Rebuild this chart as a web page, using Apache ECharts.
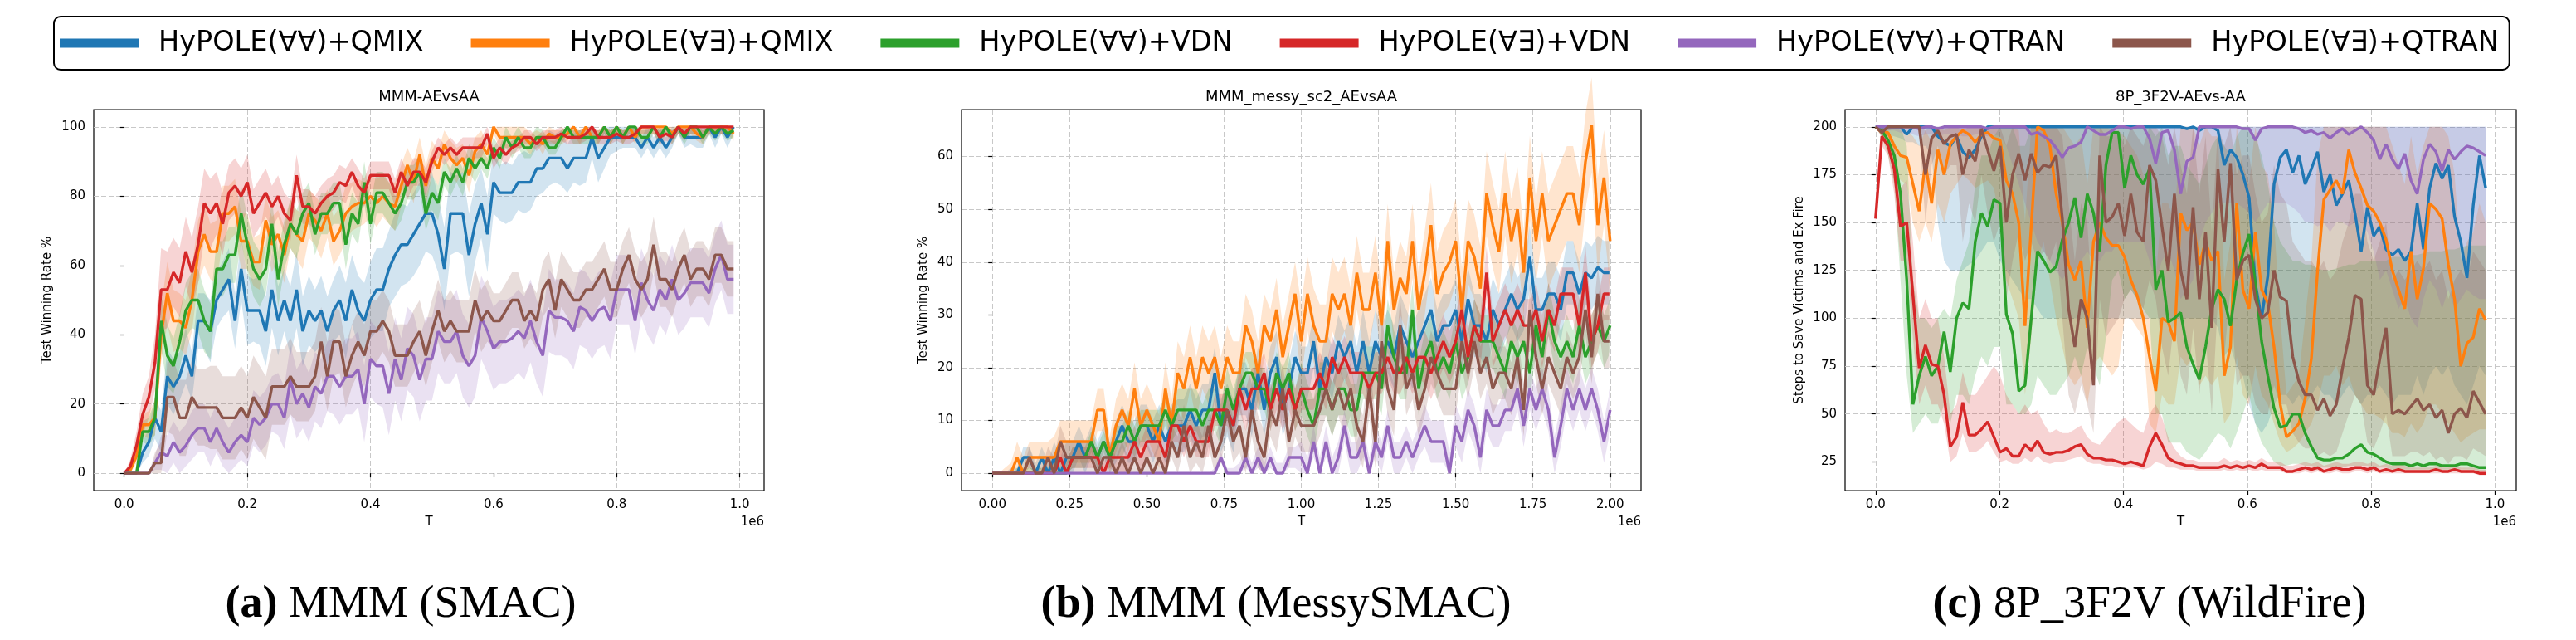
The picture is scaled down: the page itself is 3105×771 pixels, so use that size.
<!DOCTYPE html>
<html><head><meta charset="utf-8">
<script src="https://cdn.jsdelivr.net/npm/echarts@6/dist/echarts.min.js"></script>
<style>html,body{margin:0;padding:0;background:#fff}#c{width:3105px;height:771px}</style>
</head><body><div id="c"></div>
<script>
const METHODS = ['HyPOLE(∀∀)+QMIX','HyPOLE(∀∃)+QMIX','HyPOLE(∀∀)+VDN','HyPOLE(∀∃)+VDN','HyPOLE(∀∀)+QTRAN','HyPOLE(∀∃)+QTRAN'];
const COLORS = ['#1f77b4','#ff7f0e','#2ca02c','#d62728','#9467bd','#8c564b'];
const TITLES = ['MMM-AEvsAA','MMM_messy_sc2_AEvsAA','8P_3F2V-AEvs-AA'];
const YLABELS = ['Test Winning Rate %','Test Winning Rate %','Steps to Save Victims and Ex Fire'];
const XLABEL = 'T';
const OFFSET_TEXT = '1e6';
const CAPTION_TAGS = ['(a)','(b)','(c)'];
const CAPTION_TEXTS = ['MMM (SMAC)','MMM (MessySMAC)','8P_3F2V (WildFire)'];
const X_TICKS_A = [0,200000,400000,600000,800000,1000000];
const X_TICKS_B = [0,250000,500000,750000,1000000,1250000,1500000,1750000,2000000];
const X_TICKS_C = [0,200000,400000,600000,800000,1000000];
const Y_TICKS_A = [0,20,40,60,80,100];
const Y_TICKS_B = [0,10,20,30,40,50,60];
const Y_TICKS_C = [25,50,75,100,125,150,175,200];
const STEP_A = 10000, STEP_B = 20000, STEP_C = 10050;

// ---------- (a) MMM (SMAC) ----------
const A_BLUE = [0,0,0,6,9,16,12,28,25,28, 34,28,44,44,41,50,53,56,44,59, 47,47,47,41,53,44,50,44,53,41, 47,44,47,41,47,50,44,53,47,44, 50,53,53,59,63,66,66,69,72,75, 75,69,59,75,75,75,63,72,78,69, 84,81,81,81,84,84,84,88,88,91, 91,91,88,91,91,91,97,91,94,97, 97,97,97,97,94,97,94,97,94,97, 100,97,97,97,97,100,97,100,97,100];
const A_ORANGE = [0,1,5,14,14,16,40,52,44,44, 42,50,64,69,64,64,75,75,77,67, 67,61,61,73,66,69,63,72,69,67, 75,73,70,75,67,70,75,77,78,78, 80,78,80,78,77,83,89,84,92,83, 91,88,95,91,89,91,86,93,95,92, 100,97,97,97,97,97,95,97,95,98, 97,97,98,100,97,100,97,97,100,97, 100,97,100,97,100,100,100,100,100,98, 100,100,100,98,97,100,100,100,100,98];
const A_GREEN = [0,0,0,12,12,16,44,34,31,38, 47,50,50,44,41,59,59,63,63,75, 66,59,56,59,72,56,66,72,69,75, 78,69,75,75,78,78,66,75,72,84, 72,81,81,78,75,78,84,84,87,75, 81,78,87,84,88,84,91,88,91,88, 94,91,97,94,97,94,94,97,97,94, 94,97,100,97,97,97,97,97,100,97, 100,97,100,100,97,97,100,97,100,97, 100,97,100,100,97,100,98,100,98,99];
const A_RED = [0,2,8,17,22,32,53,53,58,55, 64,58,66,78,75,78,72,81,83,80, 84,75,78,81,77,80,75,73,86,77, 77,75,78,80,81,84,83,87,83,81, 86,86,86,86,81,87,83,87,87,84, 90,94,92,94,92,94,94,94,94,98, 91,94,92,94,95,97,97,95,97,97, 97,98,97,97,97,98,100,97,97,97, 98,97,97,98,100,100,100,97,98,97, 100,98,100,100,100,100,100,100,100,100];
const A_PURPLE = [0,0,0,0,0,3,6,5,9,6, 8,11,13,13,9,13,9,6,9,11, 9,16,14,16,20,20,16,27,20,23, 19,25,23,28,28,25,28,28,30,20, 33,31,31,23,33,27,36,34,27,33, 33,41,38,38,41,34,31,34,45,41, 36,38,38,39,41,39,44,38,34,47, 45,45,44,41,48,47,44,47,48,44, 53,53,53,44,55,50,47,53,50,56, 50,52,55,55,55,52,59,63,56,56];
const A_BROWN = [0,0,0,0,0,3,3,22,22,16, 16,22,19,19,19,19,16,16,16,19, 16,22,19,16,25,25,25,28,25,25, 25,28,38,28,38,38,28,34,38,34, 41,41,44,41,34,34,34,38,41,34, 41,47,41,44,41,41,41,50,44,47, 44,44,47,50,50,44,47,44,53,56, 47,56,53,50,50,53,53,56,59,53, 53,59,63,56,53,56,66,56,56,53, 59,63,56,59,59,56,63,63,59,59];
// half-widths of shaded bands (a)
const A_BLUE_SD = [0,0,0,3,4,6,6,8,8,7, 8,7,8,8,9,8,8,9,8,9, 10,9,10,10,11,10,9,10,11,10, 10,9,10,10,9,10,11,10,10,11, 11,12,12,11,12,12,11,12,12,11, 12,11,12,12,11,12,12,11,10,11, 9,8,9,8,8,9,8,8,7,8, 7,8,7,7,8,7,6,7,6,5, 4,3,3,3,3,3,3,3,3,3, 2,3,2,3,3,2,3,2,3,2];
const A_ORANGE_SD = [0,1,2,3,4,5,8,9,9,8, 8,9,9,9,8,9,8,8,8,8, 8,7,8,7,8,7,8,7,7,8, 7,7,8,7,7,7,8,7,7,6, 6,7,6,6,7,6,5,6,5,6, 5,5,4,5,5,4,5,4,4,3, 2,3,3,3,3,3,3,2,3,2, 2,2,2,2,2,2,2,2,2,2, 2,2,2,2,2,2,2,2,2,2, 2,2,2,2,2,2,2,2,2,2];
const A_GREEN_SD = [0,0,0,3,4,5,8,9,8,8, 8,8,9,9,8,8,8,8,8,8, 8,8,8,7,7,8,7,7,7,6, 6,6,6,6,6,6,7,6,6,6, 6,6,6,6,5,5,5,5,5,5, 5,5,4,4,4,4,4,4,3,3, 3,3,3,3,3,3,3,3,2,2, 2,2,2,2,2,2,2,2,2,2, 2,2,2,2,2,2,2,2,2,2, 2,2,2,2,2,2,2,2,2,2];
const A_RED_SD = [0,2,4,6,6,8,12,11,10,10, 10,10,11,10,10,9,9,8,8,8, 8,7,7,7,6,6,6,6,6,5, 5,5,5,5,5,5,5,4,5,4, 4,4,4,4,4,4,4,4,4,4, 3,3,3,3,3,3,3,3,3,3, 3,3,3,2,2,2,2,2,2,2, 2,2,2,2,2,2,2,2,2,2, 2,2,2,2,2,2,2,2,2,2, 2,2,2,2,2,2,2,2,2,2];
const A_PURPLE_SD = [0,0,0,0,0,2,5,6,6,6, 6,7,7,7,7,7,7,7,7,7, 7,8,8,8,8,9,9,10,10,10, 10,10,10,10,11,11,11,11,11,11, 11,11,12,12,12,12,12,12,12,12, 12,12,12,12,12,12,12,12,12,12, 12,12,12,12,12,12,12,12,12,12, 11,11,11,11,11,11,11,11,11,11, 10,10,10,10,10,10,10,10,10,10, 10,10,10,10,10,10,10,10,10,10];
const A_BROWN_SD = [0,0,0,0,0,3,6,10,11,11, 11,11,11,11,12,12,12,12,12,12, 12,12,12,12,11,11,11,11,10,10, 10,10,10,10,10,9,9,9,9,9, 9,9,9,9,9,9,9,9,9,9, 9,9,9,9,9,9,9,9,9,9, 8,8,8,8,8,8,8,8,8,8, 8,8,8,8,8,8,8,8,8,8, 8,8,8,8,8,8,8,8,8,8, 8,8,8,8,8,8,8,8,8,8];

// ---------- (b) MMM (MessySMAC) ----------
const B_BLUE = [0,0,0,0,0,3,3,0,3,0, 3,0,3,3,6,3,6,3,6,3, 6,9,6,6,9,9,6,9,6,9, 9,9,12,9,12,12,19,9,12,9, 16,16,12,19,12,19,22,12,16,22, 19,19,25,16,22,19,25,22,25,19, 25,19,25,22,25,22,28,25,22,25, 28,31,25,28,28,31,25,33,28,28, 25,31,28,31,34,31,33,41,31,31, 34,34,31,38,38,34,38,37,39,38, 38];
const B_ORANGE = [0,0,0,0,3,0,3,3,3,3, 3,6,6,6,6,6,6,12,12,3, 9,12,9,16,9,12,9,6,16,9, 19,16,22,16,22,19,22,16,22,19, 19,28,25,19,28,25,31,22,28,34, 25,34,28,25,25,34,31,34,28,38, 31,31,38,28,44,31,37,34,44,31, 38,47,34,38,40,44,31,44,41,35, 53,47,42,53,44,50,38,56,44,53, 44,47,50,53,53,47,59,66,47,56, 44];
const B_GREEN = [0,0,0,0,0,0,0,0,0,0, 0,0,0,3,3,3,6,3,6,3, 6,6,9,6,9,9,9,9,12,9, 12,12,12,12,9,12,12,9,16,12, 16,19,19,16,16,12,19,16,19,12, 16,12,9,16,16,12,16,16,12,12, 19,19,19,16,28,22,19,19,31,16, 22,25,19,22,19,25,19,22,28,25, 25,25,22,19,25,22,25,19,28,22, 31,25,22,25,22,28,22,25,28,25, 28];
const B_RED = [0,0,0,0,0,0,0,0,0,0, 0,3,0,3,3,3,3,3,0,3, 3,3,3,6,3,6,6,6,3,9, 9,6,9,6,6,6,12,12,12,9, 16,12,16,16,19,12,16,12,16,12, 16,16,16,19,16,22,19,22,19,19, 19,16,19,19,22,19,19,22,19,22, 22,19,22,25,22,25,31,22,28,25, 38,25,28,31,28,31,28,28,31,25, 31,28,34,34,34,28,38,25,28,34, 34];
const B_PURPLE = [0,0,0,0,0,0,0,0,0,0, 0,0,0,0,0,0,0,0,0,0, 0,0,0,0,0,0,0,0,0,0, 0,0,0,0,0,0,0,3,0,0, 0,3,0,3,0,3,0,0,3,3, 3,0,6,0,6,0,3,9,3,3, 6,0,6,3,9,3,3,6,3,6, 9,6,6,6,0,9,6,12,9,3, 12,9,9,12,12,16,9,16,12,16, 12,3,9,16,12,16,12,16,12,6, 12];
const B_BROWN = [0,0,0,0,0,0,3,0,0,3, 0,6,3,3,3,3,3,0,3,3, 0,3,0,3,0,3,0,3,0,6, 3,9,3,6,3,9,3,6,12,6, 9,3,12,6,3,12,9,16,6,12, 9,9,9,12,16,12,16,12,16,9, 6,16,6,25,16,12,28,16,19,12, 16,22,19,16,16,16,25,19,25,19, 22,16,19,19,16,22,12,31,22,16, 22,19,16,22,19,22,31,22,34,25, 25];
const B_BLUE_SD = [0,0,0,1,1,2,2,2,2,2, 3,3,3,3,3,3,3,3,3,3, 4,4,4,4,4,4,4,4,4,4, 5,5,5,5,5,5,5,5,5,5, 5,5,5,5,5,5,5,5,5,5, 5,5,5,5,5,5,5,5,5,5, 6,6,6,6,6,6,6,6,6,6, 6,6,6,6,6,6,6,6,6,6, 6,6,6,6,6,6,6,6,6,6, 6,6,6,6,6,6,6,6,6,6, 6];
const B_ORANGE_SD = [0,0,1,2,3,3,3,3,3,3, 4,4,4,4,4,4,4,4,4,4, 5,5,5,5,5,5,5,5,5,5, 6,6,6,6,6,6,6,6,6,6, 6,6,6,6,6,6,6,6,6,6, 7,7,7,7,7,7,7,7,7,7, 7,7,7,7,7,7,7,7,7,7, 8,8,8,8,8,8,8,8,8,8, 8,8,8,8,8,8,8,8,8,8, 9,9,9,9,9,9,9,9,9,9, 9];
const B_GREEN_SD = [0,0,0,0,1,1,1,1,1,1, 2,2,2,2,2,2,2,2,2,2, 3,3,3,3,3,3,3,3,3,3, 4,4,4,4,4,4,4,4,4,4, 4,4,4,4,4,4,4,4,4,4, 5,5,5,5,5,5,5,5,5,5, 5,5,5,5,5,5,5,5,5,5, 5,5,5,5,5,5,5,5,5,5, 5,5,5,5,5,5,5,5,5,5, 5,5,5,5,5,5,5,5,5,5, 5];
const B_RED_SD = [0,0,0,0,0,0,0,0,0,0, 2,2,2,2,2,2,2,2,2,2, 3,3,3,3,3,3,3,3,3,3, 3,3,3,3,3,3,3,3,3,3, 4,4,4,4,4,4,4,4,4,4, 4,4,4,4,4,4,4,4,4,4, 4,4,4,4,4,4,4,4,4,4, 5,5,5,5,5,5,5,5,5,5, 5,5,5,5,5,5,5,5,5,5, 5,5,5,5,5,5,5,5,5,5, 5];
const B_PURPLE_SD = [0,0,0,0,0,0,0,0,0,0, 0,0,0,0,0,0,0,0,0,0, 0,0,0,0,0,0,0,0,0,0, 0,0,0,0,0,0,1,1,1,1, 2,2,2,2,2,2,2,2,2,2, 3,3,3,3,3,3,3,3,3,3, 3,3,3,3,3,3,3,3,3,3, 4,4,4,4,4,4,4,4,4,4, 4,4,4,4,4,4,4,4,4,4, 4,4,4,4,4,4,4,4,4,4, 4];
const B_BROWN_SD = [0,0,0,0,0,1,2,1,1,2, 3,3,3,3,3,3,3,3,3,3, 3,3,3,3,3,3,3,3,3,3, 4,4,4,4,4,4,4,4,4,4, 5,5,5,5,5,5,5,5,5,5, 5,5,5,5,5,5,5,5,5,5, 5,5,5,5,5,5,5,5,5,5, 5,5,5,5,5,5,5,5,5,5, 5,5,5,5,5,5,5,5,5,5, 5,5,5,5,5,5,5,5,5,5, 5];

// ---------- (c) 8P_3F2V (WildFire) ----------
const C_BLUE = [200,200,200,200,200,196,200,200,200,200, 195,192,190,195,187,184,188,195,200,200, 200,200,200,200,200,200,200,200,200,200, 200,200,200,200,200,200,200,200,200,200, 200,200,200,200,200,200,200,200,200,200, 199,200,198,200,200,198,180,188,184,175, 163,118,100,122,170,184,188,176,185,170, 178,187,166,175,159,165,172,155,135,158, 143,148,136,133,136,130,135,160,136,168, 181,173,180,153,140,121,159,185,168];
const C_ORANGE = [200,197,197,190,185,184,170,156,181,160, 188,175,191,195,198,196,192,196,197,194, 193,172,165,150,96,148,200,198,190,165, 150,128,120,130,95,140,150,142,138,138, 132,120,112,100,80,62,100,98,88,155, 146,150,128,140,130,135,70,85,160,115, 105,145,115,108,85,55,38,41,45,58, 79,125,162,167,172,165,188,176,168,159, 156,150,141,125,115,105,135,110,126,160, 157,152,128,110,75,87,90,105,99];
const C_GREEN = [200,198,193,185,165,120,55,70,80,70, 75,93,72,100,108,105,140,155,148,162, 160,102,92,62,65,100,135,130,124,127, 141,150,163,142,165,155,135,180,197,197, 168,185,175,170,178,115,125,98,100,103, 85,76,68,85,105,115,110,96,120,134, 144,118,88,70,53,43,44,50,50,40, 33,27,26,26,27,27,29,32,34,30, 29,27,25,24,24,24,23,24,23,24, 24,23,23,23,24,24,23,22,22];
const C_RED = [152,195,190,178,148,150,112,74,86,76, 75,60,33,38,56,39,39,42,46,38, 30,32,28,28,34,31,36,30,29,30, 30,31,33,34,29,27,27,26,26,25, 24,25,24,23,33,40,34,27,25,24, 23,23,22,22,22,22,23,22,23,22, 23,22,24,22,22,22,20,20,21,22, 21,22,20,21,22,21,21,22,22,21, 22,20,21,20,21,20,20,20,20,20, 21,20,20,21,20,20,20,19,19];
const C_PURPLE = [200,200,200,200,200,200,200,199,200,200, 199,200,200,200,200,200,200,200,199,200, 200,200,200,200,200,196,197,195,193,189, 184,189,190,192,200,198,196,196,198,200, 200,199,200,200,194,181,197,198,188,165, 182,184,200,200,200,200,200,200,200,199, 199,193,199,200,200,200,200,200,199,197, 198,196,197,194,197,199,196,198,200,197, 193,183,191,183,178,186,172,165,183,191, 187,177,188,183,187,190,189,187,185];
const C_BROWN = [200,197,200,200,200,200,200,200,175,194, 198,191,195,196,175,188,182,199,188,177, 190,150,175,186,172,186,176,180,179,185, 152,105,85,110,100,65,185,150,153,160, 143,165,145,140,180,172,148,125,165,125, 110,158,110,145,95,178,140,181,120,130, 133,110,100,103,125,111,109,80,67,60, 60,52,58,49,55,74,90,112,110,65, 60,79,95,50,52,50,54,58,52,55, 48,52,40,50,53,48,62,56,50];
// shaded band bounds (c)
const C_BLUE_LO = [200,198,196,195,194,192,192,190,190,185, 150,130,125,125,125,128,130,135,140,140, 130,125,120,115,110,110,105,100,100,100, 100,100,100,100,100,100,100,100,100,100, 100,100,100,100,100,100,100,100,100,100, 100,100,100,100,100,95,80,85,75,70, 55,45,40,45,55,60,60,55,60,55, 60,65,60,60,55,60,65,60,55,60, 60,65,60,55,60,60,60,70,60,70, 75,70,75,65,60,55,65,75,70];
const C_BLUE_HI = [200,200,200,200,200,200,200,200,200,200, 200,200,200,200,200,200,200,200,200,200, 200,200,200,200,200,200,200,200,200,200, 200,200,200,200,200,200,200,200,200,200, 200,200,200,200,200,200,200,200,200,200, 200,200,200,200,200,200,200,200,200,200, 200,200,200,200,200,200,200,200,200,200, 200,200,200,200,200,200,200,200,200,200, 200,200,200,200,200,200,200,200,200,200, 200,200,200,200,200,200,200,200,200];
const C_ORANGE_LO = [200,195,190,180,172,170,150,140,150,140, 160,150,165,170,175,172,168,170,172,168, 150,120,110,100,60,90,130,140,120,100, 85,70,65,70,55,75,80,75,70,75, 100,100,95,90,45,40,60,55,55,80, 75,80,65,70,65,70,45,50,80,60, 55,75,60,55,45,35,30,32,35,40, 45,55,70,70,75,65,70,60,55,50, 50,48,45,40,40,38,45,40,45,55, 55,50,45,40,35,38,40,42,42];
const C_ORANGE_HI = [200,200,200,200,198,198,195,190,198,192, 200,198,200,200,200,200,200,200,200,200, 200,200,200,198,150,200,200,200,200,200, 200,195,190,195,170,200,200,200,198,198, 195,190,185,175,150,120,160,160,150,200, 200,200,190,200,195,195,120,140,200,180, 170,200,180,175,150,100,60,65,70,100, 130,185,200,200,200,200,200,200,200,200, 200,200,200,190,180,170,195,175,190,200, 200,200,195,175,130,140,145,160,150];
const C_GREEN_LO = [200,195,185,170,120,70,40,45,50,45, 45,55,45,60,60,55,70,80,75,85, 85,55,55,50,50,55,70,65,60,60, 65,70,80,70,85,75,65,90,120,125, 110,115,110,105,100,50,50,35,35,35, 30,28,26,30,35,40,38,32,40,50, 60,45,35,30,25,23,23,24,24,23, 23,22,22,22,22,22,23,23,23,23, 22,22,22,21,21,21,21,21,21,21, 21,21,21,21,21,21,21,20,20];
const C_GREEN_HI = [200,200,200,200,200,190,120,100,100,95, 100,105,100,120,130,140,170,185,185,195, 200,200,200,190,190,200,200,200,200,200, 200,200,200,200,200,200,200,200,200,200, 200,200,200,200,200,195,200,185,190,190, 180,175,170,180,190,195,190,185,195,200, 200,195,185,170,150,140,135,130,130,128, 128,126,125,125,126,127,128,128,130,130, 130,130,130,132,132,132,133,133,134,135, 135,135,136,136,137,138,138,138,138];
const C_RED_LO = [150,190,185,165,130,130,90,55,65,55, 55,45,25,28,40,30,30,32,36,30, 25,26,24,24,27,25,28,25,24,25, 25,26,27,28,25,24,24,23,23,22, 22,22,22,21,22,25,24,22,22,21, 21,21,20,20,20,20,21,20,21,20, 21,20,21,20,20,20,19,19,19,20, 19,20,19,19,20,19,19,20,20,19, 20,19,19,19,19,19,19,19,19,19, 19,19,19,19,19,19,19,18,18];
const C_RED_HI = [155,200,197,192,168,172,140,100,110,100, 100,80,50,55,72,60,60,65,70,75, 70,60,55,50,55,50,52,45,40,42, 40,40,42,44,38,35,34,38,42,46, 48,45,42,40,50,55,48,38,32,28, 26,26,25,25,25,25,27,25,26,25, 26,25,27,25,25,25,23,23,24,25, 24,25,23,24,25,24,24,25,25,24, 25,23,24,23,24,23,22,22,22,22, 23,22,22,23,22,22,22,21,21];
const C_PURPLE_LO = [200,199,198,198,197,196,196,195,196,196, 195,196,196,196,195,195,196,196,195,196, 195,190,180,170,160,150,140,135,130,125, 120,125,125,130,135,130,130,135,135,140, 140,140,140,140,130,120,130,135,125,110, 115,120,140,150,155,160,160,160,160,158, 155,150,155,160,160,160,160,158,155,150, 150,148,150,145,150,150,148,150,150,145, 135,120,125,115,105,110,100,95,110,120, 115,105,115,105,110,115,112,110,110];
const C_PURPLE_HI = [200,200,200,200,200,200,200,200,200,200, 200,200,200,200,200,200,200,200,200,200, 200,200,200,200,200,200,200,200,200,200, 200,200,200,200,200,200,200,200,200,200, 200,200,200,200,200,200,200,200,200,200, 200,200,200,200,200,200,200,200,200,200, 200,200,200,200,200,200,200,200,200,200, 200,200,200,200,200,200,200,200,200,200, 200,200,200,200,200,200,200,200,200,200, 200,200,200,200,200,200,200,200,200];
const C_BROWN_LO = [200,194,198,199,199,199,199,198,150,180, 190,175,180,180,140,160,150,175,155,140, 150,110,130,145,130,140,130,135,130,140, 100,60,50,65,55,40,110,90,95,100, 110,115,110,105,120,110,85,70,100,70, 60,95,60,90,50,110,80,115,65,70, 70,55,50,50,65,55,55,40,35,32, 32,28,30,28,30,40,50,60,55,35, 32,40,50,28,28,28,30,30,28,30, 26,28,24,28,28,26,32,30,28];
const C_BROWN_HI = [200,200,200,200,200,200,200,200,198,200, 200,200,200,200,198,200,200,200,200,200, 200,190,200,200,200,200,200,200,200,200, 195,160,130,160,150,100,200,195,195,198, 190,200,195,190,200,200,195,180,200,180, 165,200,165,195,145,200,190,200,175,185, 185,165,150,155,180,165,160,140,135,130, 130,125,130,120,125,140,150,165,165,140, 130,140,150,120,125,120,125,130,125,130, 120,125,110,120,125,120,135,130,125];

// ---------- layout ----------
const GRIDS = [
  {left:113, top:132, width:808, height:459},
  {left:1159, top:132, width:819, height:459},
  {left:2224, top:132, width:809, height:459}
];
const FONT = 'DejaVu Sans';

function sdBand(means, sds, lo, hi) {
  return {
    lo: means.map((m, i) => Math.max(lo, m - sds[i])),
    hi: means.map((m, i) => hi == null ? m + sds[i] : Math.min(hi, m + sds[i]))
  };
}
function steps(n, step) { const t = []; for (let i = 0; i < n; i++) t.push(i * step); return t; }

const A_MEANS = [A_BLUE, A_ORANGE, A_GREEN, A_RED, A_PURPLE, A_BROWN];
const A_SDS = [A_BLUE_SD, A_ORANGE_SD, A_GREEN_SD, A_RED_SD, A_PURPLE_SD, A_BROWN_SD];
const B_MEANS = [B_BLUE, B_ORANGE, B_GREEN, B_RED, B_PURPLE, B_BROWN];
const B_SDS = [B_BLUE_SD, B_ORANGE_SD, B_GREEN_SD, B_RED_SD, B_PURPLE_SD, B_BROWN_SD];
const C_MEANS = [C_BLUE, C_ORANGE, C_GREEN, C_RED, C_PURPLE, C_BROWN];
const C_LOS = [C_BLUE_LO, C_ORANGE_LO, C_GREEN_LO, C_RED_LO, C_PURPLE_LO, C_BROWN_LO];
const C_HIS = [C_BLUE_HI, C_ORANGE_HI, C_GREEN_HI, C_RED_HI, C_PURPLE_HI, C_BROWN_HI];

const aBands = A_MEANS.map((m, k) => sdBand(m, A_SDS[k], 0, 100));
const bBands = B_MEANS.map((m, k) => sdBand(m, B_SDS[k], 0, null));

const PANELS = [
  {T: steps(A_BLUE.length, STEP_A), means: A_MEANS, lo: aBands.map(b => b.lo), hi: aBands.map(b => b.hi),
   xMin: -49500, xMax: 1039500, yMin: -5, yMax: 105, xTicks: X_TICKS_A, yTicks: Y_TICKS_A, digits: 1, nameGap: 48},
  {T: steps(B_BLUE.length, STEP_B), means: B_MEANS, lo: bBands.map(b => b.lo), hi: bBands.map(b => b.hi),
   xMin: -100000, xMax: 2100000, yMin: -3.28, yMax: 68.9, xTicks: X_TICKS_B, yTicks: Y_TICKS_B, digits: 2, nameGap: 38},
  {T: steps(C_BLUE.length, STEP_C), means: C_MEANS, lo: C_LOS, hi: C_HIS,
   xMin: -49250, xMax: 1034250, yMin: 10, yMax: 209, xTicks: X_TICKS_C, yTicks: Y_TICKS_C, digits: 1, nameGap: 47}
];

const grid = [], xAxis = [], yAxis = [], series = [], graphic = [];
const gridLine = {show: true, lineStyle: {color: '#c8c8c8', width: 1, type: [6, 3]}};
const tickStyle = {color: '#000', width: 1.2};

function bandSeries(p, T, lo, hi, color) {
  return {
    type: 'custom', coordinateSystem: 'cartesian2d', xAxisIndex: p, yAxisIndex: p,
    silent: true, z: 1, data: [[T[0], lo[0]]],
    renderItem: (params, api) => {
      const pts = [];
      for (let i = 0; i < T.length; i++) pts.push(api.coord([T[i], hi[i]]));
      for (let i = T.length - 1; i >= 0; i--) pts.push(api.coord([T[i], lo[i]]));
      return {type: 'polygon', shape: {points: pts}, style: {fill: color, opacity: 0.2}};
    }
  };
}

PANELS.forEach((P, p) => {
  const G = GRIDS[p];
  grid.push(Object.assign({show: true, borderColor: '#000', borderWidth: 1.2, backgroundColor: 'transparent', containLabel: false, outerBoundsMode: 'none'}, G));
  xAxis.push({
    gridIndex: p, type: 'value', min: P.xMin, max: P.xMax,
    axisLine: {show: false},
    axisTick: {show: true, length: 5, lineStyle: tickStyle, customValues: P.xTicks},
    axisLabel: {customValues: P.xTicks, fontSize: 15, color: '#000', fontFamily: FONT, margin: 10,
      formatter: v => (v / 1e6).toFixed(P.digits)},
    splitLine: gridLine,
    name: XLABEL, nameLocation: 'middle', nameGap: 31,
    nameTextStyle: {fontSize: 15, color: '#000', fontFamily: FONT}
  });
  yAxis.push({
    gridIndex: p, type: 'value', min: P.yMin, max: P.yMax,
    axisLine: {show: false},
    axisTick: {show: true, length: 5, lineStyle: tickStyle, customValues: P.yTicks},
    axisLabel: {customValues: P.yTicks, fontSize: 15, color: '#000', fontFamily: FONT, margin: 10},
    splitLine: gridLine,
    name: YLABELS[p], nameLocation: 'middle', nameRotate: 90, nameGap: P.nameGap,
    nameTextStyle: {fontSize: 15, color: '#000', fontFamily: FONT}
  });
  for (let k = 0; k < 6; k++) series.push(bandSeries(p, P.T, P.lo[k], P.hi[k], COLORS[k]));
  for (let k = 0; k < 6; k++) {
    series.push({name: METHODS[k], type: 'line', xAxisIndex: p, yAxisIndex: p, color: COLORS[k],
      data: P.T.map((t, i) => [t, P.means[k][i]]), symbol: 'none', z: 3,
      lineStyle: {color: COLORS[k], width: 3.4}, itemStyle: {color: COLORS[k]}, emphasis: {disabled: true}});
  }
  const cx = G.left + G.width / 2;
  graphic.push({type: 'text', x: cx, y: 117, silent: true,
    style: {text: TITLES[p], fontSize: 18, fontFamily: FONT, fill: '#000', align: 'center', verticalAlign: 'middle', textAlign: 'center', textVerticalAlign: 'middle'}});
  graphic.push({type: 'text', x: G.left + G.width, y: 629, silent: true,
    style: {text: OFFSET_TEXT, fontSize: 15, fontFamily: FONT, fill: '#000', align: 'right', verticalAlign: 'middle', textAlign: 'right', textVerticalAlign: 'middle'}});
});

const CAPTION_X = [483, 1538, 2591];
CAPTION_TAGS.forEach((tag, p) => {
  graphic.push({type: 'text', x: CAPTION_X[p], y: 729, silent: true,
    style: {text: '{b|' + tag + '} ' + CAPTION_TEXTS[p], fontSize: 54, fontFamily: 'Liberation Serif', fill: '#000',
      align: 'center', verticalAlign: 'middle', textAlign: 'center', textVerticalAlign: 'middle',
      rich: {b: {fontSize: 54, fontFamily: 'Liberation Serif', fontWeight: 'bold', fill: '#000'}}}});
});

const chart = echarts.init(document.getElementById('c'), null, {renderer: 'canvas', width: 3105, height: 771});
chart.setOption({
  animation: false,
  backgroundColor: '#fff',
  textStyle: {fontFamily: FONT},
  legend: {
    data: METHODS, left: 65, top: 20, orient: 'horizontal', icon: 'rect',
    itemWidth: 95, itemHeight: 11, itemGap: 57, padding: [15, 13, 15, 7],
    borderColor: '#000', borderWidth: 2, borderRadius: 8, selectedMode: false,
    textStyle: {fontSize: 33.5, color: '#000', fontFamily: FONT, padding: [0, 0, 0, 19]}
  },
  grid, xAxis, yAxis, series, graphic
});
</script>
</body></html>
